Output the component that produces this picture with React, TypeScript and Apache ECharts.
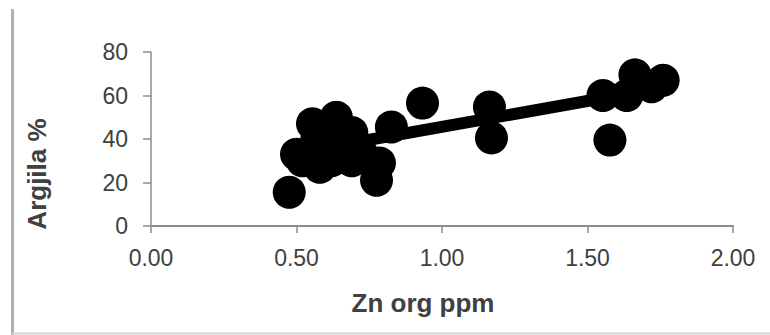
import React, { useEffect, useRef } from "react";
import * as echarts from "echarts";

const xTitle = "Zn org ppm";
const yTitle = "Argjila %";
const znValues = [0.475, 0.5, 0.52, 0.555, 0.58, 0.57, 0.6, 0.637, 0.65, 0.67, 0.69, 0.62, 0.69, 0.725, 0.775, 0.785, 0.826, 0.933, 1.163, 1.17, 1.553, 1.577, 1.635, 1.663, 1.76, 1.72];
const clayValues = [15.5, 33, 30, 47, 27, 40, 35, 50, 42, 34, 43, 30, 30, 33, 21, 29, 45.5, 56.5, 54.7, 40.5, 60, 39.5, 60, 69.5, 67, 64];
const trendSlope = 23.8;
const trendIntercept = 21.8;
const xTicks = [0, 0.5, 1, 1.5, 2];
const yTicks = [0, 20, 40, 60, 80];

export default function App() {
  const ref = useRef<HTMLDivElement>(null);
  useEffect(() => {
    if (!ref.current) return;
    const chart = echarts.init(ref.current, null, { renderer: "svg" });
    const points = znValues.map((x, i) => [x, clayValues[i]]);
    const minX = Math.min(...znValues);
    const maxX = Math.max(...znValues);
    const trend = [minX, maxX].map((x) => [x, trendSlope * x + trendIntercept]);
    const labelColor = "#404040";
    const axisColor = "#8c8c8c";
    const font = "Liberation Sans";
    chart.setOption({
      animation: false,
      backgroundColor: "#ffffff",
      grid: { left: 151, right: 37, top: 52, bottom: 109 },
      xAxis: {
        type: "value",
        min: xTicks[0],
        max: xTicks[xTicks.length - 1],
        interval: 0.5,
        axisLine: { show: true, onZero: false, lineStyle: { color: axisColor, width: 2 } },
        axisTick: { show: true, inside: false, length: 7, lineStyle: { color: axisColor, width: 1.5 } },
        axisLabel: { margin: 20, fontFamily: font, fontSize: 23, color: labelColor, formatter: (v: number) => v.toFixed(2) },
        splitLine: { show: false },
      },
      yAxis: {
        type: "value",
        min: yTicks[0],
        max: yTicks[yTicks.length - 1],
        interval: 20,
        axisLine: { show: true, lineStyle: { color: axisColor, width: 1.5 } },
        axisTick: { show: true, inside: false, length: 8, lineStyle: { color: axisColor, width: 1.5 } },
        axisLabel: { margin: 23, fontFamily: font, fontSize: 23, color: labelColor },
        splitLine: { show: false },
      },
      graphic: [
        { type: "line", shape: { x1: 12.5, y1: 9, x2: 12.5, y2: 335 }, style: { stroke: "#b0b0b0", lineWidth: 3 } },
        { type: "line", shape: { x1: 12, y1: 333.5, x2: 770, y2: 333.5 }, style: { stroke: "#d4d4d4", lineWidth: 2 } },
        {
          type: "text",
          x: 423,
          y: 303,
          style: { text: xTitle, font: `bold 26px "${font}"`, fill: labelColor, align: "center", verticalAlign: "middle" },
        },
        {
          type: "text",
          x: 37,
          y: 174,
          rotation: Math.PI / 2,
          style: { text: yTitle, font: `bold 26px "${font}"`, fill: labelColor, align: "center", verticalAlign: "middle" },
        },
      ],
      series: [
        {
          type: "scatter",
          data: points,
          symbol: "circle",
          symbolSize: 33,
          itemStyle: { color: "#000000", opacity: 1 },
          z: 3,
        },
        {
          type: "line",
          data: trend,
          symbol: "none",
          lineStyle: { color: "#000000", width: 12 },
          z: 2,
        },
      ],
    });
    return () => chart.dispose();
  }, []);
  return <div ref={ref} style={{ width: 770, height: 335, position: "absolute", left: 0, top: 0 }} />;
}
